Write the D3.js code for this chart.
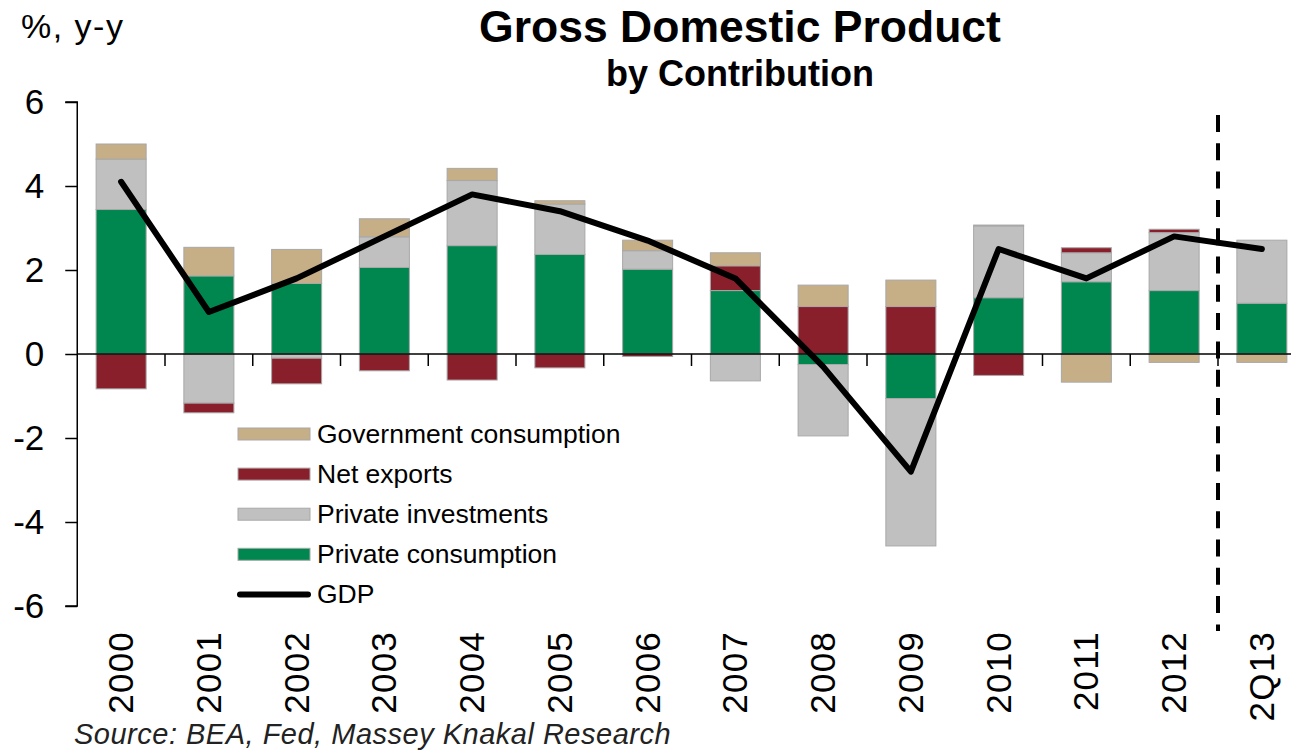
<!DOCTYPE html>
<html>
<head>
<meta charset="utf-8">
<script src="https://cdn.jsdelivr.net/npm/d3@7"></script>
<style>
  html, body { margin: 0; padding: 0; background: #fff; }
  svg { display: block; font-family: "Liberation Sans", Arial, sans-serif; }
</style>
</head>
<body>
<svg id="chart" width="1291" height="750"></svg>
<script>
// Contributions to US real GDP growth, percentage points (y-y)
const categories = ["2000","2001","2002","2003","2004","2005","2006","2007","2008","2009","2010","2011","2012","2Q13"];
const privateConsumption    = [3.44, 1.86, 1.68, 2.06, 2.58, 2.37, 2.02, 1.51, -0.25, -1.06, 1.34, 1.72, 1.51, 1.21];
const privateInvestments    = [1.20, -1.17, -0.10, 0.73, 1.55, 1.20, 0.44, -0.64, -1.70, -3.51, 1.71, 0.69, 1.38, 1.50];
const netExports            = [-0.83, -0.23, -0.61, -0.40, -0.62, -0.33, -0.06, 0.59, 1.13, 1.13, -0.51, 0.12, 0.08, 0.00];
const governmentConsumption = [0.36, 0.68, 0.81, 0.43, 0.29, 0.08, 0.25, 0.31, 0.51, 0.63, 0.02, -0.67, -0.20, -0.20];
const gdp                   = [4.1, 1.0, 1.8, 2.8, 3.8, 3.4, 2.7, 1.8, -0.3, -2.8, 2.5, 1.8, 2.8, 2.5];
const yTicks = [-6, -4, -2, 0, 2, 4, 6];

const series = [
  { key: "pc", name: "Private consumption",    values: privateConsumption,    color: "#00874F" },
  { key: "pi", name: "Private investments",    values: privateInvestments,    color: "#C0C0C0" },
  { key: "nx", name: "Net exports",            values: netExports,            color: "#8A1F2C" },
  { key: "gc", name: "Government consumption", values: governmentConsumption, color: "#C6AE86" }
];
const colorOf = Object.fromEntries(series.map(s => [s.key, s.color]));

const rows = categories.map((c, i) => {
  const r = { cat: c };
  series.forEach(s => r[s.key] = s.values[i]);
  return r;
});

const svg = d3.select("#chart");
const plotLeft = 77.25, plotRight = 1305.75;

const x = d3.scaleBand()
  .domain(categories)
  .range([plotLeft, plotRight])
  .paddingInner(0.43)
  .paddingOuter(0.215);

const y = d3.scaleLinear().domain([-6, 6]).range([606, 102]);

// Stacked bars: positives stack up, negatives stack down
const stack = d3.stack()
  .keys(series.map(s => s.key))
  .order(d3.stackOrderNone)
  .offset(d3.stackOffsetDiverging);
const layers = stack(rows);

svg.append("g").selectAll("g")
  .data(layers)
  .join("g")
  .attr("fill", d => colorOf[d.key])
  .selectAll("rect")
  .data(d => d.filter(p => p[1] !== p[0]))
  .join("rect")
  .attr("x", d => x(d.data.cat))
  .attr("width", x.bandwidth())
  .attr("y", d => y(Math.max(d[0], d[1])))
  .attr("height", d => Math.abs(y(d[0]) - y(d[1])))
  .attr("stroke", "#A8A8A8")
  .attr("stroke-width", 1);

// Y axis
const yAxis = d3.axisLeft(y)
  .tickValues(yTicks)
  .tickFormat(d => String(d))
  .tickSize(12)
  .tickPadding(21);
const gy = svg.append("g")
  .attr("transform", `translate(${plotLeft},0)`)
  .call(yAxis);
gy.select(".domain").attr("stroke", "#000").attr("stroke-width", 1.5)
  .attr("d", `M-12,${y(6)}H0V${y(-6)}H-12`);
gy.selectAll(".tick line").attr("stroke", "#000").attr("stroke-width", 1.5);
gy.selectAll(".tick text")
  .attr("fill", "#000")
  .style("font-size", "35px")
  .attr("dy", "0.34em");

// Zero line with category-boundary ticks
const step = x.step();
const boundary = c => x(c) - step * 0.215;
const zeroAxis = svg.append("g");
zeroAxis.append("line")
  .attr("x1", plotLeft).attr("x2", 1291)
  .attr("y1", y(0)).attr("y2", y(0))
  .attr("stroke", "#000").attr("stroke-width", 1.5);
zeroAxis.selectAll("line.bt")
  .data(categories.slice(1))
  .join("line")
  .attr("class", "bt")
  .attr("x1", boundary)
  .attr("x2", boundary)
  .attr("y1", y(0)).attr("y2", y(0) + 12)
  .attr("stroke", "#000").attr("stroke-width", 1.5);

// Category labels, rotated
svg.append("g").selectAll("text")
  .data(categories)
  .join("text")
  .attr("transform", d => `translate(${x(d) + x.bandwidth() / 2 + 12},631) rotate(-90)`)
  .attr("text-anchor", "end")
  .style("font-size", "35px")
  .style("letter-spacing", "1.2px")
  .attr("fill", "#000")
  .text(d => d);

// GDP line
const line = d3.line()
  .x((d, i) => x(categories[i]) + x.bandwidth() / 2)
  .y(d => y(d));
svg.append("path")
  .datum(gdp)
  .attr("d", line)
  .attr("fill", "none")
  .attr("stroke", "#000")
  .attr("stroke-width", 6)
  .attr("stroke-linejoin", "round")
  .attr("stroke-linecap", "round");

// Dashed separator before the latest quarter
const sepX = boundary("2Q13");
svg.append("line")
  .attr("x1", sepX).attr("x2", sepX)
  .attr("y1", 115).attr("y2", 631)
  .attr("stroke", "#000")
  .attr("stroke-width", 4)
  .attr("stroke-dasharray", "17 11.3");

// Legend
const legendItems = [
  { name: "Government consumption", color: colorOf.gc, type: "rect" },
  { name: "Net exports",            color: colorOf.nx, type: "rect" },
  { name: "Private investments",    color: colorOf.pi, type: "rect" },
  { name: "Private consumption",    color: colorOf.pc, type: "rect" },
  { name: "GDP",                    color: "#000",     type: "line" }
];
const lg = svg.append("g").attr("transform", "translate(238,443)");
const li = lg.selectAll("g").data(legendItems).join("g")
  .attr("transform", (d, i) => `translate(0,${i * 40.1})`);
li.filter(d => d.type === "rect").append("rect")
  .attr("x", 0).attr("y", -15).attr("width", 72).attr("height", 12)
  .attr("fill", d => d.color).attr("stroke", "#A8A8A8").attr("stroke-width", 1);
li.filter(d => d.type === "line").append("line")
  .attr("x1", 2).attr("x2", 70).attr("y1", -9).attr("y2", -9)
  .attr("stroke", "#000").attr("stroke-width", 6).attr("stroke-linecap", "round");
li.append("text")
  .attr("x", 79).attr("y", 0)
  .style("font-size", "26.5px")
  .attr("fill", "#000")
  .text(d => d.name);

// Titles and notes
svg.append("text")
  .attr("x", 740).attr("y", 42)
  .attr("text-anchor", "middle")
  .style("font-size", "44.5px").style("font-weight", "bold")
  .text("Gross Domestic Product");
svg.append("text")
  .attr("x", 740).attr("y", 86)
  .attr("text-anchor", "middle")
  .style("font-size", "36px").style("font-weight", "bold")
  .text("by Contribution");
svg.append("text")
  .attr("x", 21).attr("y", 38)
  .style("font-size", "34px")
  .style("letter-spacing", "1.5px")
  .text("%, y-y");
svg.append("text")
  .attr("x", 74).attr("y", 744)
  .style("font-size", "29px").style("font-style", "italic")
  .style("letter-spacing", "0.5px")
  .attr("fill", "#222")
  .text("Source: BEA, Fed, Massey Knakal Research");
</script>
</body>
</html>
